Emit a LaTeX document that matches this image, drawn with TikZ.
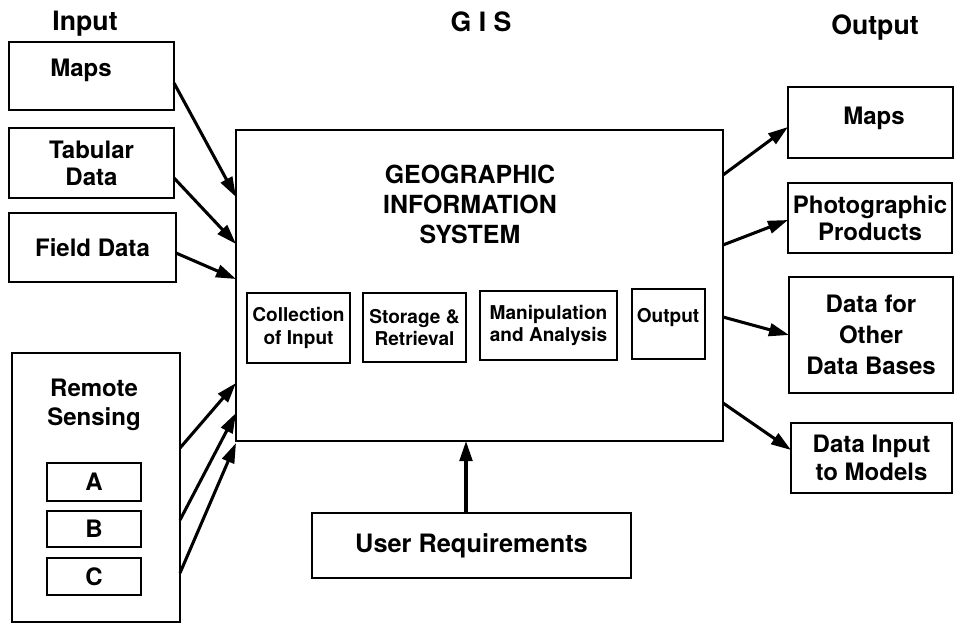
\documentclass[tikz,border=0pt]{standalone}
\usepackage{fontspec}
\setmainfont{TeX Gyre Heros}
\usetikzlibrary{arrows.meta}

\tikzset{
  box/.style={draw, line width=1.6pt, inner sep=0pt, outer sep=0pt, align=center},
  sz/.style 2 args={minimum width=#1*0.75pt, minimum height=#2*0.75pt},
  hdr/.style={font=\bfseries\fontsize{20}{24}\selectfont, inner sep=0pt, anchor=base},
  big/.style={font=\bfseries\fontsize{18}{20.25}\selectfont},
  small/.style={font=\bfseries\fontsize{14.3}{16.8}\selectfont},
  txt/.style={inner sep=0pt, align=center},
  arr/.style={line width=2.3pt, -{Triangle[length=15pt,width=9.5pt]}}
}

\begin{document}
\begin{tikzpicture}[x=0.75pt,y=-0.75pt]
\useasboundingbox (0,0) rectangle (955,624);

% column headings
\node[hdr] (hIn)  at (85,31)    {Input};
\node[hdr] (hGis) at (481,32)   {G I S};
\node[hdr] (hOut) at (875,34.5) {Output};

% input sources
\node[box,big,sz={165}{68}] (inMaps) at (91.5,76) {};
\node[txt,big,anchor=base] (inMapsT) at (81,77) {Maps};
\node[box,big,sz={165}{70}] (inTab) at (91.5,163) {Tabular\\Data};
\node[box,big,sz={167}{69}] (inField) at (92.5,247.5) {Field Data};
\node[box,big,sz={168}{269}] (inRS) at (96,487.5) {};
\node[txt,font=\bfseries\fontsize{18}{21.75}\selectfont] (inRST) at (94,405) {Remote\\Sensing};
\node[box,big,sz={94}{38}] (rsA) at (94,482) {A};
\node[box,big,sz={94}{36}] (rsB) at (94,529) {B};
\node[box,big,sz={94}{37}] (rsC) at (94,576.5) {C};

% central system
\node[box,sz={487}{311}] (gis) at (479.5,285.5) {};
\node[txt,font=\bfseries\fontsize{18.7}{22.5}\selectfont] (gisT) at (470,204)
  {GEOGRAPHIC\\INFORMATION\\SYSTEM};
\node[box,small,sz={103}{70}] (sub1) at (298.5,328) {Collection\\of Input};
\node[box,small,sz={103}{69}] (sub2) at (414.5,327.5) {Storage \&\\Retrieval};
\node[box,small,sz={137}{69}] (sub3) at (548.5,325.5) {Manipulation\\and Analysis};
\node[box,small,sz={73}{70}] (sub4) at (668.5,324) {};
\node[txt,small,anchor=base] (sub4T) at (668,322) {Output};

% products
\node[box,big,sz={165}{71}] (outMaps) at (870.5,122.5) {};
\node[txt,big,anchor=base] (outMapsT) at (874,125) {Maps};
\node[box,big,sz={164}{70}] (outPhoto) at (870,218) {Photographic\\Products};
\node[box,sz={164}{116},font=\bfseries\fontsize{18}{23}\selectfont] (outDB) at (871,335)
  {Data for\\Other\\Data Bases};
\node[box,sz={161}{70},font=\bfseries\fontsize{18}{21}\selectfont] (outModel) at (871.5,458)
  {Data Input\\to Models};

% user requirements
\node[box,sz={319}{65},font=\bfseries\fontsize{19}{22}\selectfont] (user) at (471.5,545.5)
  {User Requirements};

% inputs into the system
\draw[arr] ([shift={(0,7)}]inMaps.east)   -- ([shift={(0,-88.5)}]gis.west);
\draw[arr] ([shift={(0,15)}]inTab.east)   -- ([shift={(0,-41.5)}]gis.west);
\draw[arr] ([shift={(0,5.5)}]inField.east) -- ([shift={(0,-6.5)}]gis.west);
\draw[arr] ([shift={(0,-39.5)}]inRS.east) -- ([shift={(0,97.5)}]gis.west);
\draw[arr] ([shift={(0,32.5)}]inRS.east)  -- ([shift={(0,127.5)}]gis.west);
\draw[arr] ([shift={(0,85.5)}]inRS.east)  -- ([shift={(0,157.5)}]gis.west);

% outputs from the system
\draw[arr] ([shift={(0,-110.5)}]gis.east) -- ([shift={(0,4.5)}]outMaps.west);
\draw[arr] ([shift={(0,-40.5)}]gis.east)  -- ([shift={(0,2)}]outPhoto.west);
\draw[arr] ([shift={(0,31.5)}]gis.east)   -- (outDB.west);
\draw[arr] ([shift={(0,117.5)}]gis.east)  -- ([shift={(0,-8)}]outModel.west);

% user requirements feed the system
\draw[arr] ([shift={(-5.5,0)}]user.north) coordinate (uTop) -- (uTop |- gis.south);
\end{tikzpicture}
\end{document}
